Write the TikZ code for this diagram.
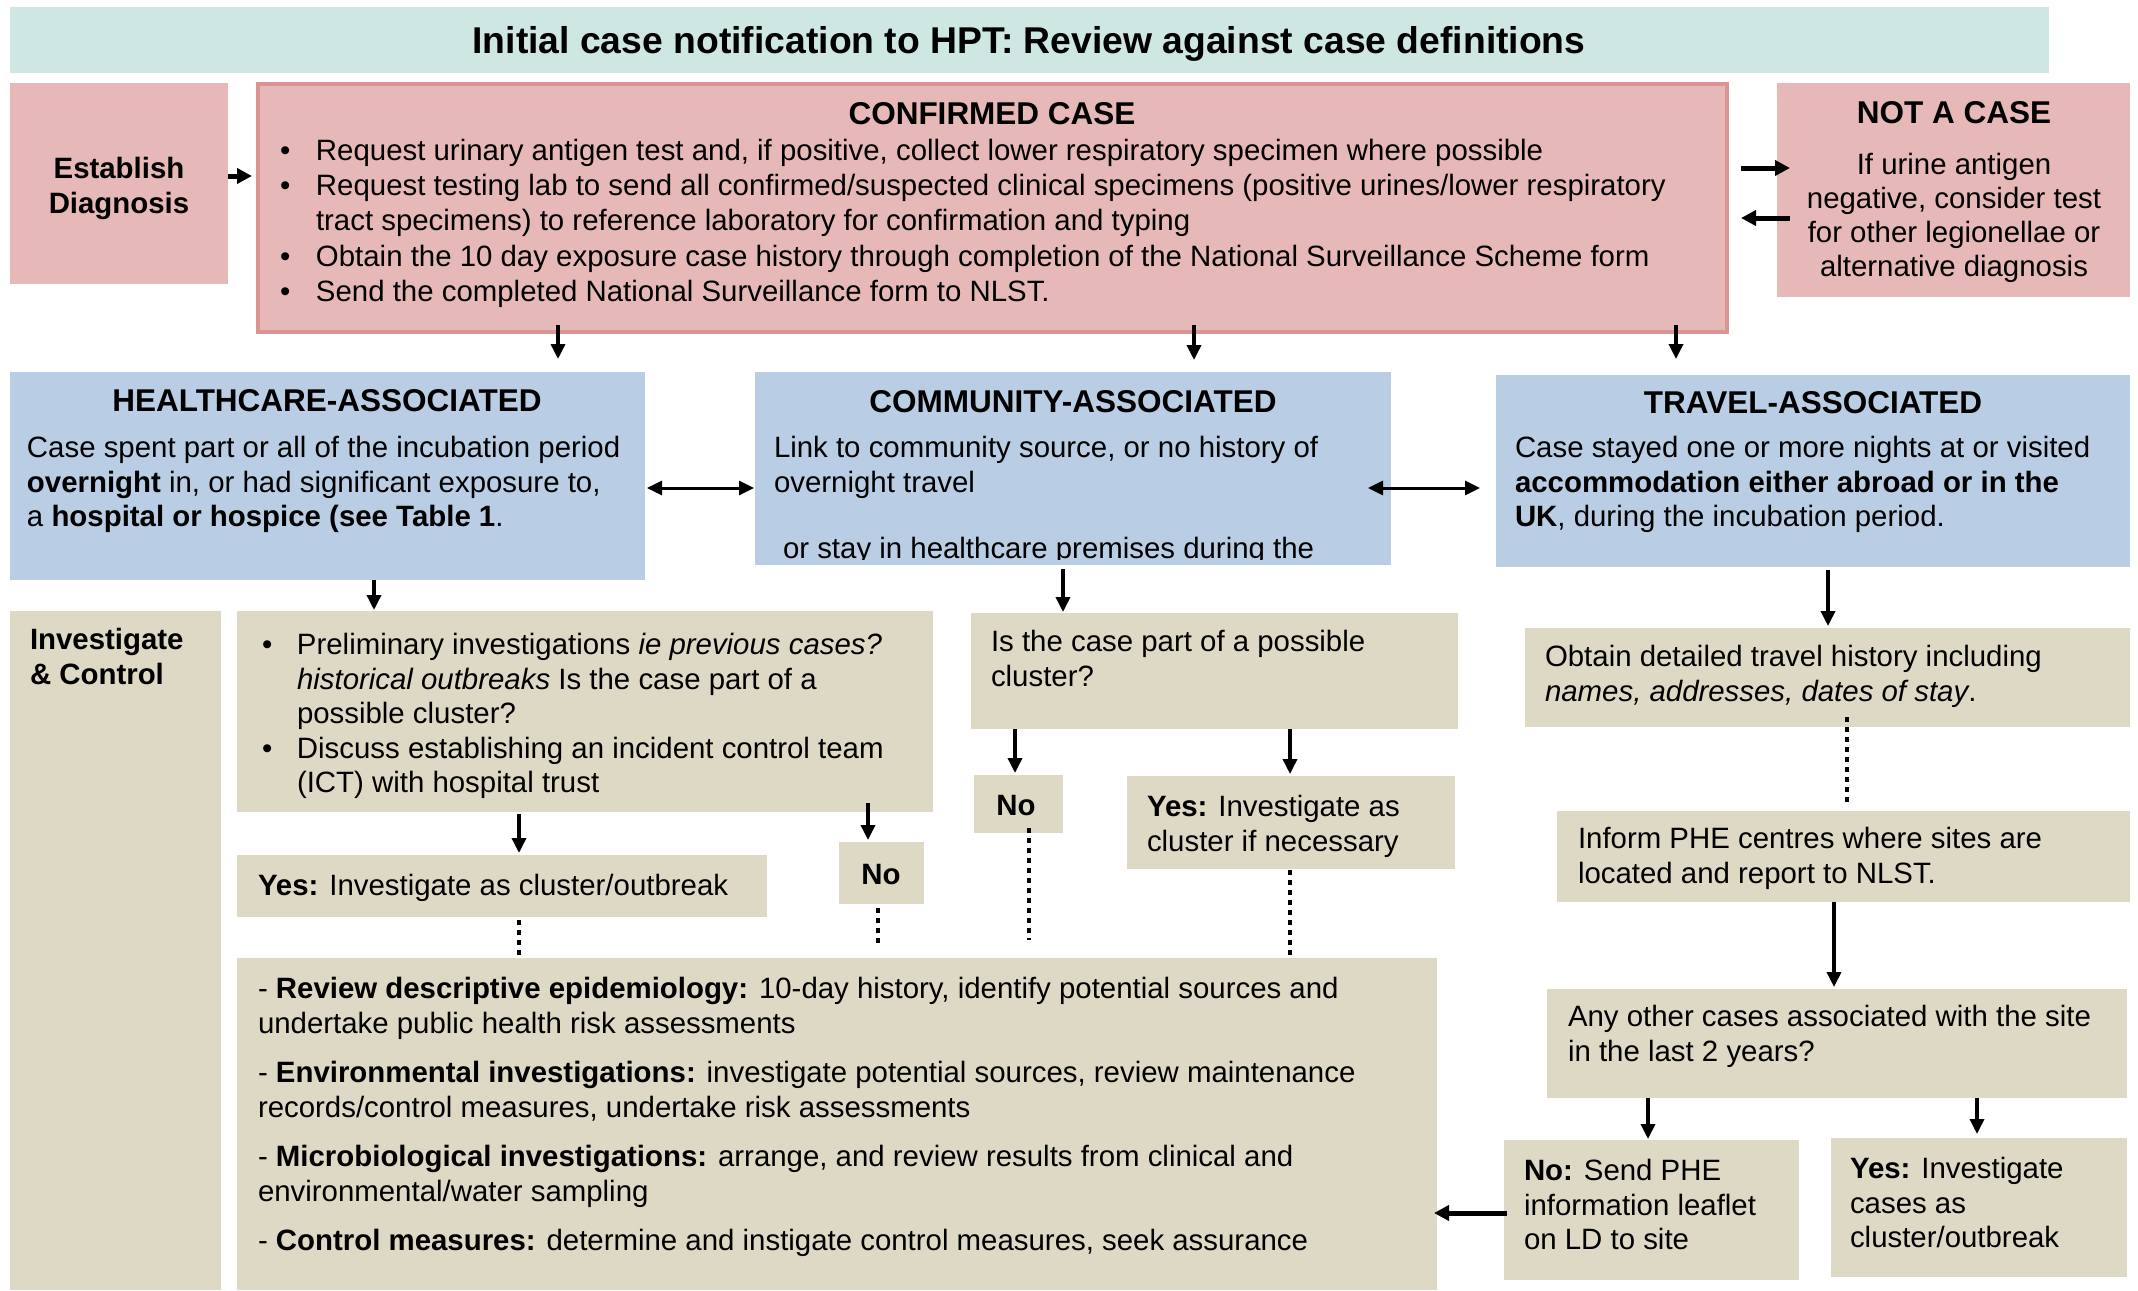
\documentclass[tikz,border=0pt]{standalone}
\usepackage{fontspec}
\setmainfont{Liberation Sans}
\usetikzlibrary{arrows.meta}
\definecolor{teal1}{RGB}{206,231,227}
\definecolor{pink1}{RGB}{230,184,183}
\definecolor{pinkb}{RGB}{217,149,148}
\definecolor{blue1}{RGB}{185,205,228}
\definecolor{tan1}{RGB}{221,217,196}
\newcommand{\bodyf}{\fontsize{29.4}{34.5}\selectfont}
\newcommand{\headf}{\fontsize{31.5}{38}\selectfont\bfseries}
\newcommand{\bl}{\makebox[36pt][l]{\textbullet}}
\newcommand{\bll}{\makebox[35pt][l]{\textbullet}}
\begin{document}
\begin{tikzpicture}[x=1pt,y=-1pt,
  box/.style={inner sep=0pt, outer sep=0pt, anchor=north west, draw=none},
  txt/.style={anchor=north west, inner sep=0pt, outer sep=0pt, align=left, font=\bodyf, yshift=-1.5pt},
  hd/.style={anchor=base, inner sep=0pt, outer sep=0pt, font=\headf},
  arr/.style={-{Triangle[length=15pt,width=14pt]}, line width=3.5pt},
  arrthick/.style={-{Triangle[length=15pt,width=15pt]}, line width=5pt},
  dbl/.style={{Triangle[length=15pt,width=14pt]}-{Triangle[length=15pt,width=14pt]}, line width=3pt},
  dsh/.style={line width=4.5pt, dash pattern=on 5pt off 5pt}]
\useasboundingbox (0,0) rectangle (2138,1290);

% ---------- boxes ----------
\node[box, fill=teal1, minimum width=2039, minimum height=66] (title) at (10,7) {};
\node[box, fill=pink1, minimum width=218, minimum height=201] (estab) at (10,83) {};
\node[box, fill=pink1, draw=pinkb, line width=4pt, minimum width=1469, minimum height=248] (conf) at (258,84) {};
\node[box, fill=pink1, minimum width=353, minimum height=214] (notcase) at (1777,83) {};
\node[box, fill=blue1, minimum width=635, minimum height=208] (hc) at (10,372) {};
\node[box, fill=blue1, minimum width=636, minimum height=193] (comm) at (755,372) {};
\node[box, fill=blue1, minimum width=634, minimum height=192] (trav) at (1496,375) {};
\node[box, fill=tan1, minimum width=211, minimum height=679] (ic) at (10,611) {};
\node[box, fill=tan1, minimum width=696, minimum height=201] (hci) at (237,611) {};
\node[box, fill=tan1, minimum width=487, minimum height=116] (cmi) at (971,613) {};
\node[box, fill=tan1, minimum width=605, minimum height=99] (tro) at (1525,628) {};
\node[box, fill=tan1, minimum width=530, minimum height=62] (hcy) at (237,855) {};
\node[box, fill=tan1, minimum width=85, minimum height=62] (hcn) at (839,842) {};
\node[box, fill=tan1, minimum width=89, minimum height=58] (cmn) at (974,775) {};
\node[box, fill=tan1, minimum width=328, minimum height=93] (cmy) at (1127,776) {};
\node[box, fill=tan1, minimum width=1200, minimum height=332] (big) at (237,958) {};
\node[box, fill=tan1, minimum width=573, minimum height=91] (inf) at (1557,811) {};
\node[box, fill=tan1, minimum width=580, minimum height=109] (any) at (1547,989) {};
\node[box, fill=tan1, minimum width=295, minimum height=140] (trn) at (1504,1140) {};
\node[box, fill=tan1, minimum width=296, minimum height=139] (trY) at (1831,1138) {};

% ---------- texts ----------
\node[hd, font=\fontsize{37.3}{44}\selectfont\bfseries] (titletext) at (1029,53.5) {Initial case notification to HPT: Review against case definitions};

\node[txt, anchor=north, align=center, font=\bodyf\bfseries] (estabtext) at (119,153) {\strut Establish\\Diagnosis};

\node[hd] (conftitle) at (992,124) {CONFIRMED CASE};
\node[txt, font=\fontsize{29.4}{35.2}\selectfont] (conftext) at (280,134.4) {\strut\bl Request urinary antigen test and, if positive, collect lower respiratory specimen where possible\\
\bl Request testing lab to send all confirmed/suspected clinical specimens (positive urines/lower respiratory\\
\hspace*{36pt}tract specimens) to reference laboratory for confirmation and typing\\
\bl Obtain the 10 day exposure case history through completion of the National Surveillance Scheme form\\
\bl Send the completed National Surveillance form to NLST.};

\node[hd] (nctitle) at (1954,123) {NOT A CASE};
\node[txt, anchor=north, align=center, font=\fontsize{29.4}{34}\selectfont] (nctext) at (1954,149.2) {\strut If urine antigen\\negative, consider test\\for other legionellae or\\alternative diagnosis};

\node[hd] (hctitle) at (327,411) {HEALTHCARE-ASSOCIATED};
\node[txt] (hctext) at (27,432) {\strut Case spent part or all of the incubation period\\\textbf{overnight} in, or had significant exposure to,\\a \textbf{hospital or hospice (see Table 1}.};

\node[hd] (cmtitle) at (1073,412) {COMMUNITY-ASSOCIATED};
\node[txt] (cmtext) at (774,432) {\strut Link to community source, or no history of\\overnight travel};
\begin{scope}
\clip (755,372) rectangle (1391,559);
\node[txt] (cmtext2) at (783,533) {\strut or stay in healthcare premises during the};
\end{scope}

\node[hd] (trtitle) at (1813,413) {TRAVEL-ASSOCIATED};
\node[txt] (trtext) at (1515,432) {\strut Case stayed one or more nights at or visited\\\textbf{accommodation either abroad or in the}\\\textbf{UK}, during the incubation period.};

\node[txt, font=\bodyf\bfseries] (ictext) at (30,624) {\strut Investigate\\\& Control};

\node[txt] (hcitext) at (262,629) {\strut\bll Preliminary investigations \textit{ie previous cases?}\\
\hspace*{35pt}\textit{historical outbreaks} Is the case part of a\\
\hspace*{35pt}possible cluster?\\
\bll Discuss establishing an incident control team\\
\hspace*{35pt}(ICT) with hospital trust};

\node[txt] (cmitext) at (991,626) {\strut Is the case part of a possible\\cluster?};
\node[txt] (trotext) at (1545,641) {\strut Obtain detailed travel history including\\\textit{names, addresses, dates of stay}.};
\node[txt] (hcytext) at (258,870) {\strut\textbf{Yes:} Investigate as cluster/outbreak};
\node[hd, font=\bodyf\bfseries] (hcntext) at (881,884) {No};
\node[hd, font=\bodyf\bfseries] (cmntext) at (1016,815) {No};
\node[txt] (cmytext) at (1147,791) {\strut\textbf{Yes:} Investigate as\\cluster if necessary};

\node[txt] (bigtext) at (258,973) {\strut- \textbf{Review descriptive epidemiology:} 10-day history, identify potential sources and\\
undertake public health risk assessments\\[15pt]
- \textbf{Environmental investigations:} investigate potential sources, review maintenance\\
records/control measures, undertake risk assessments\\[15pt]
- \textbf{Microbiological investigations:} arrange, and review results from clinical and\\
environmental/water sampling\\[15pt]
- \textbf{Control measures:} determine and instigate control measures, seek assurance};

\node[txt] (inftext) at (1578,823) {\strut Inform PHE centres where sites are\\located and report to NLST.};
\node[txt] (anytext) at (1568,1001) {\strut Any other cases associated with the site\\in the last 2 years?};
\node[txt] (trntext) at (1524,1155) {\strut\textbf{No:} Send PHE\\information leaflet\\on LD to site};
\node[txt] (trytext) at (1850,1153) {\strut\textbf{Yes:} Investigate\\cases as\\cluster/outbreak};

% ---------- connectors ----------
\draw[arrthick, shorten >=6pt] (estab.east |- 0,176) -- (conf.west |- 0,176);
\draw[arrthick, shorten <=14pt, shorten >=-13pt] (conf.east |- 0,168) -- (notcase.west |- 0,168);
\draw[arrthick, shorten <=-13pt, shorten >=14pt] (notcase.west |- 0,218) -- (conf.east |- 0,218);

\draw[arr, shorten <=-7pt, shorten >=13pt] (558,0 |- conf.south) -- (558,0 |- hc.north);
\draw[arr, shorten <=-7pt, shorten >=12pt] (1194,0 |- conf.south) -- (1194,0 |- comm.north);
\draw[arr, shorten <=-7pt, shorten >=16pt] (1676,0 |- conf.south) -- (1676,0 |- trav.north);

\draw[dbl, shorten <=2pt, shorten >=1pt] (hc.east |- 0,488) -- (comm.west |- 0,488);
\draw[dbl, shorten <=-23pt, shorten >=16pt] (comm.east |- 0,488) -- (trav.west |- 0,488);

\draw[arr, shorten >=1pt] (374,0 |- hc.south) -- (374,0 |- hci.north);
\draw[arr, shorten <=4pt, shorten >=1pt] (1063,0 |- comm.south) -- (1063,0 |- cmi.north);
\draw[arr, shorten <=3pt, shorten >=2pt] (1828,0 |- trav.south) -- (1828,0 |- tro.north);

\draw[arr, shorten <=2pt, shorten >=2pt] (519,0 |- hci.south) -- (519,0 |- hcy.north);
\draw[arr, shorten <=-9pt, shorten >=2pt] (868,0 |- hci.south) -- (868,0 |- hcn.north);
\draw[arr, shorten >=2pt] (1015,0 |- cmi.south) -- (1015,0 |- cmn.north);
\draw[arr, shorten >=2pt] (1290,0 |- cmi.south) -- (1290,0 |- cmy.north);

\draw[dsh, shorten <=3pt, shorten >=1pt] (519,0 |- hcy.south) -- (519,0 |- big.north);
\draw[dsh, shorten <=4pt, shorten >=13pt] (878,0 |- hcn.south) -- (878,0 |- big.north);
\draw[dsh, shorten <=-5pt, shorten >=18pt] (1029,0 |- cmn.south) -- (1029,0 |- big.north);
\draw[dsh, shorten <=1pt] (1290,0 |- cmy.south) -- (1290,0 |- big.north);
\draw[dsh, shorten <=-10pt, shorten >=7pt] (1847,0 |- tro.south) -- (1847,0 |- inf.north);

\draw[arr, shorten >=2pt] (1834,0 |- inf.south) -- (1834,0 |- any.north);
\draw[arr, shorten >=1pt] (1648,0 |- any.south) -- (1648,0 |- trn.north);
\draw[arr, shorten >=4pt] (1977,0 |- any.south) -- (1977,0 |- trY.north);
\draw[arrthick, shorten <=-3pt, shorten >=-3pt] (trn.west |- 0,1213) -- (big.east |- 0,1213);
\end{tikzpicture}
\end{document}
